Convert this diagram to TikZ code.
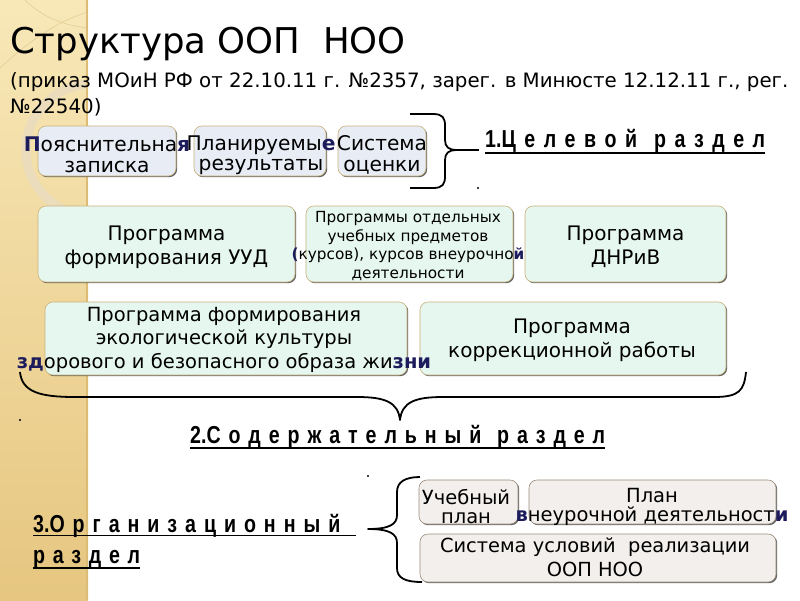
\documentclass[tikz,border=0pt]{standalone}
\usepackage{fontspec}
\setmainfont{DejaVu Sans}
\newfontfamily\headfont[FakeStretch=0.8]{Liberation Sans}
\usetikzlibrary{shadows}
\definecolor{stripTop}{HTML}{F8E8B8}
\definecolor{stripBot}{HTML}{E6C680}
\definecolor{stripEdge}{HTML}{DCBB74}
\definecolor{ringc}{HTML}{EBDDBB}
\definecolor{fillA}{HTML}{E8ECF5}
\definecolor{fillB}{HTML}{E6F7EF}
\definecolor{fillC}{HTML}{F2EFEC}
\definecolor{edgeA}{HTML}{C9B27A}
\definecolor{edgeC}{HTML}{9C8C7C}
\definecolor{navy}{HTML}{1C1C5C}
\newcommand\ovc[1]{{\bfseries\color{navy}#1}}
\begin{document}
\begin{tikzpicture}[x=1pt,y=-1pt,
  box/.style={draw=edgeA, line width=0.6pt, rounded corners=8pt, inner sep=0pt,
    drop shadow={shadow xshift=1.2pt, shadow yshift=-1.2pt, opacity=0.8, fill=black!75}},
  txt/.style={inner sep=0pt, align=center, text=black},
  head/.style={inner sep=0pt, anchor=base west, font={\headfont\bfseries\fontsize{24.5}{28}\selectfont}},
  uline/.style={line width=1.8pt},
  brace/.style={line width=1.8pt, line join=round}]
\useasboundingbox (0,0) rectangle (800,600);
\fill[white] (0,0) rectangle (800,600);
% left strip
\shade[top color=stripTop, bottom color=stripBot] (0,0) rectangle (88,600);
\fill[stripEdge] (86,0) rectangle (88,600);
\begin{scope}
  \clip (0,0) rectangle (86,600);
  \draw[ringc, line width=9pt] (92,150) circle (66);
  \draw[stripEdge!80!white, line width=0.5pt] (0,68) .. controls (30,40) and (60,20) .. (88,12);
  \draw[stripEdge!80!white, line width=0.5pt] (25,0) .. controls (40,15) and (60,25) .. (88,28);
\end{scope}
% title
\node[inner sep=0pt, anchor=base west, font={\fontsize{35.5}{40}\selectfont}] (title) at (10,53) {Структура ООП\ \ НОО};
\node[inner sep=0pt, anchor=base west, font={\fontsize{19.8}{24}\selectfont}] (sub1) at (10,87) {(приказ МОиН РФ от 22.10.11 г. №2357, зарег. в Минюсте 12.12.11 г., рег.};
\node[inner sep=0pt, anchor=base west, font={\fontsize{19.8}{24}\selectfont}] (sub2) at (10,113) {№22540)};
% row 1
\node[box, fill=fillA, minimum width=138pt, minimum height=50pt] (b11) at (107,151) {};
\node[box, fill=fillA, minimum width=132pt, minimum height=50pt] (b12) at (260,151) {};
\node[box, fill=fillA, minimum width=88pt, minimum height=50pt] (b13) at (382,151) {};
\node[txt, font={\fontsize{20.2}{20.5}\selectfont}] (t11) at (107,155) {\ovc{П}ояснительна\ovc{я}\\записка};
\node[txt, font={\fontsize{20.2}{20.5}\selectfont}] (t12) at (261,155) {Планируемы\ovc{е}\\результаты};
\node[txt, font={\fontsize{20.2}{20.5}\selectfont}] (t13) at (382,155) {Система\\оценки};
% brace 1
\draw[brace] (410,114) -- (433,114) .. controls (443,114) and (445,118) .. (445,126) -- (445,140)
  .. controls (445,147) and (449,150) .. (456,150) .. controls (449,150) and (445,153) .. (445,160)
  -- (445,176) .. controls (445,184) and (443,188) .. (433,188) -- (410,188);
\coordinate (tip1) at (456,150);
\coordinate (tip1e) at (479,150);
\draw[line width=1.8pt] (tip1) -- (tip1e);
\node[head] (h1) at (485,147) {\makebox[280pt][s]{1.Ц е л е в о й \ р а з д е л}};
\draw[uline] ([yshift=-6pt]h1.base west) -- ([yshift=-6pt]h1.base east);
\fill (478,188) circle (1.1);
% row 2
\node[box, fill=fillB, minimum width=257pt, minimum height=76pt] (b21) at (166.5,244) {};
\node[box, fill=fillB, minimum width=207pt, minimum height=76pt] (b22) at (409.5,244) {};
\node[box, fill=fillB, minimum width=201pt, minimum height=76pt] (b23) at (625.5,244) {};
\node[txt, font={\fontsize{20}{24}\selectfont}] (t21) at (166.5,247) {Программа\\формирования УУД};
\node[txt, font={\fontsize{15.3}{18.5}\selectfont}] (t22) at (408,246) {Программы отдельных\\учебных предметов\\\ovc{(}курсов), курсов внеурочно\ovc{й}\\деятельности};
\node[txt, font={\fontsize{20}{24}\selectfont}] (t23) at (625.5,247) {Программа\\ДНРиВ};
% row 3
\node[box, fill=fillB, minimum width=362pt, minimum height=73pt] (b31) at (226,338.5) {};
\node[box, fill=fillB, minimum width=306pt, minimum height=73pt] (b32) at (573,338.5) {};
\node[txt, font={\fontsize{19.5}{23.5}\selectfont}] (t31) at (224,339.6) {Программа формирования\\экологической культуры\\\ovc{зд}орового и безопасного образа жи\ovc{зни}};
\node[txt, font={\fontsize{20}{24}\selectfont}] (t32) at (572,340) {Программа\\коррекционной работы};
% brace 2
\draw[brace] (20,372) .. controls (22,392) and (40,397) .. (75,397) -- (357,397)
  .. controls (385,397) and (398,402) .. (400,420) .. controls (402,402) and (415,397) .. (443,397)
  -- (714,397) .. controls (740,397) and (744,390) .. (746,372);
\fill (20,420) circle (1.1);
\node[head] (h2) at (190,443) {\makebox[415pt][s]{2.С о д е р ж а т е л ь н ы й \ р а з д е л}};
\draw[uline] ([yshift=-5pt]h2.base west) -- ([yshift=-5pt]h2.base east);
% section 3
\fill (368,476) circle (1.1);
\node[head] (h3a) at (33,532) {\makebox[323pt][s]{3.О р г а н и з а ц и о н н ы й \ }};
\draw[uline] ([yshift=-3.5pt]h3a.base west) -- ([yshift=-3.5pt]h3a.base east);
\node[head] (h3b) at (33,563) {\makebox[107pt][s]{р а з д е л}};
\draw[uline] ([yshift=-5pt]h3b.base west) -- ([yshift=-5pt]h3b.base east);
\draw[brace] (420,477) .. controls (405,477) and (397,482) .. (397,492) -- (397,515)
  .. controls (397,524) and (390,529) .. (368,529) .. controls (390,529) and (397,534) .. (397,543)
  -- (397,568) .. controls (397,578) and (405,582) .. (422,582);
\node[box, draw=edgeC, fill=fillC, minimum width=99pt, minimum height=44pt] (c1) at (468.5,502) {};
\node[box, draw=edgeC, fill=fillC, minimum width=247pt, minimum height=44pt] (c2) at (652.5,502) {};
\node[box, draw=edgeC, fill=fillC, minimum width=356pt, minimum height=48pt] (c3) at (598,558) {};
\node[txt, font={\fontsize{19.5}{19}\selectfont}] (u1) at (466,506.5) {Учебный\\план};
\node[txt, font={\fontsize{19.5}{19}\selectfont}] (u2) at (652,506.5) {План\\\ovc{в}неурочной деятельност\ovc{и}};
\node[txt, font={\fontsize{19.4}{24}\selectfont}] (u3) at (595,557) {Система условий\ \ реализации\\ООП НОО};
\end{tikzpicture}
\end{document}
